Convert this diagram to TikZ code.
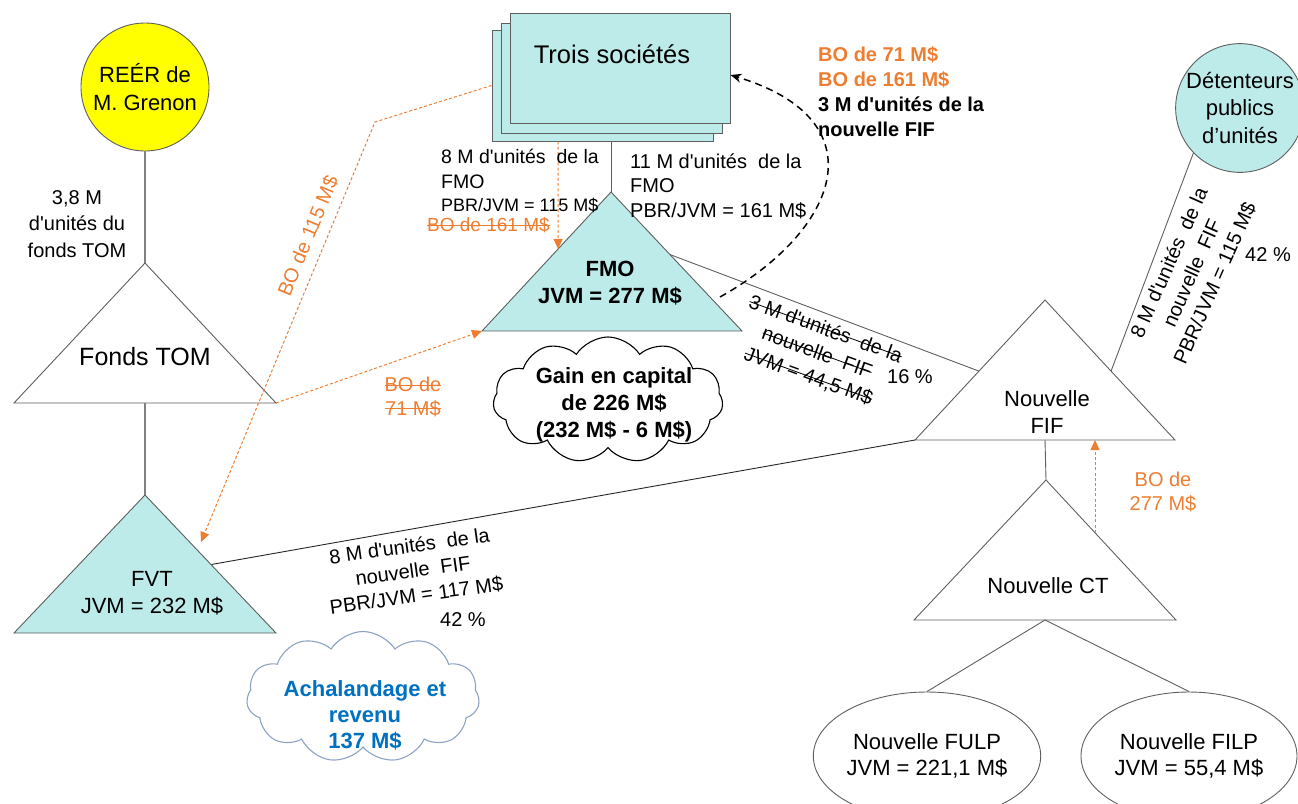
\documentclass[tikz,border=0pt]{standalone}
\usepackage{fontspec}
\setmainfont{Liberation Sans}[Ligatures=TeXOff]
\usetikzlibrary{shapes.symbols,shapes.geometric,arrows.meta,calc}
\definecolor{tealfill}{RGB}{189,235,233}
\definecolor{boorange}{RGB}{237,125,49}
\definecolor{boblue}{RGB}{0,112,192}
\definecolor{edgegray}{RGB}{95,95,95}
\definecolor{cloudblue}{RGB}{140,163,196}
\definecolor{reeryellow}{RGB}{255,255,0}
\newcommand{\fsz}[2]{\fontsize{#1}{#2}\selectfont}
% struck-through text
\newsavebox\strkbox
\newcommand{\strk}[1]{\sbox\strkbox{#1}\usebox\strkbox\llap{\rule[0.3em]{\wd\strkbox}{0.8pt}}}
% wide word gap
\newcommand{\wg}{\ \ }

\begin{document}
\begin{tikzpicture}[x=1pt,y=-1pt,
  link/.style={draw=edgegray,line width=0.9pt},
  tri/.style={draw=edgegray,line width=0.9pt,line join=miter},
  stackbox/.style={rectangle,draw=edgegray,fill=tealfill,line width=1pt,inner sep=0pt},
  odash/.style={draw=boorange,line width=1pt,dash pattern=on 3pt off 2.2pt},
  otip/.style={-{Triangle[width=9pt,length=10pt]}},
  kdash/.style={draw=black,line width=1.5pt,dash pattern=on 7pt off 5pt},
  txt/.style={inner sep=0pt,align=center},
  lbl/.style={txt,font=\fsz{20}{25}},
  big/.style={txt,font=\fsz{22}{27}},
  orng/.style={text=boorange},
]
\useasboundingbox (0,0) rectangle (1298,803);

% ---------- triangle vertices ----------
\coordinate (tomA) at (145,263); \coordinate (tomL) at (14,403);  \coordinate (tomR) at (276,403);
\coordinate (fvtA) at (145,495); \coordinate (fvtL) at (14,633);  \coordinate (fvtR) at (276,633);
\coordinate (fmoA) at (611,192); \coordinate (fmoL) at (482,331); \coordinate (fmoR) at (742,331);
\coordinate (fifA) at (1045,300); \coordinate (fifL) at (915,440); \coordinate (fifR) at (1175,440);
\coordinate (ctA) at (1046,480); \coordinate (ctL) at (914,620); \coordinate (ctR) at (1176,620);

% ---------- plain connectors (behind shapes) ----------
\draw[link] ($(fmoA)!0.45!(fmoR)$) -- ($(fifA)!0.508!(fifL)$);
\draw[link,draw=black!85] ($(fvtA)!0.504!(fvtR)$) -- (fifL);

% ---------- Trois sociétés ----------
\node[stackbox,minimum width=221pt,minimum height=111pt] (troisC) at (602.5,85.5) {};
\node[stackbox,minimum width=221pt,minimum height=110pt] (troisB) at (611.5,78) {};
\node[stackbox,minimum width=220pt,minimum height=110pt] (trois) at (620,68) {};
\node[txt,font=\fsz{25.5}{30},anchor=base] (troisT) at (612,63) {Trois sociétés};

% ---------- circles and ellipses ----------
\node[circle,draw=edgegray,fill=reeryellow,line width=0.9pt,minimum size=128pt,inner sep=0pt,
      font=\fsz{22}{28},align=center] (reer) at (145,87) {REÉR de\\M. Grenon};
\node[circle,draw=edgegray,fill=tealfill,line width=0.9pt,minimum size=120pt,inner sep=0pt,
      font=\fsz{22}{27.5},align=center] (det) at (1240,108) {Détenteurs\\publics\\d’unités};
\node[ellipse,draw=edgegray,line width=0.9pt,minimum width=216pt,minimum height=128pt,inner sep=0pt,
      font=\fsz{22}{26},align=center] (fulp) at (927,756) {Nouvelle FULP\\JVM = 221,1 M\$};
\node[ellipse,draw=edgegray,line width=0.9pt,minimum width=216pt,minimum height=128pt,inner sep=0pt,
      font=\fsz{22}{26},align=center] (filp) at (1189,756) {Nouvelle FILP\\JVM = 55,4 M\$};

% ---------- triangles ----------
\draw[tri,fill=white] (tomA) -- (tomL) -- (tomR) -- cycle;
\draw[tri,fill=tealfill] (fvtA) -- (fvtL) -- (fvtR) -- cycle;
\draw[tri,fill=tealfill] (fmoA) -- (fmoL) -- (fmoR) -- cycle;
\draw[tri,fill=white] (fifA) -- (fifL) -- (fifR) -- cycle;
\draw[tri,fill=white] (ctA) -- (ctL) -- (ctR) -- cycle;

% (anchor=base of a multi-line node sits on its last line)
\node[txt,font=\fsz{25}{30},anchor=base] (tomT) at (145,365) {Fonds TOM};
\node[big,anchor=base] (fvtT) at (152,613) {FVT\\JVM = 232 M\$};
\node[big,font=\fsz{22}{27}\bfseries,anchor=base] (fmoT) at (610,303) {FMO\\JVM = 277 M\$};
\node[big,anchor=base] (fifT) at (1047,433) {Nouvelle\\FIF};
\node[big,anchor=base] (ctT) at (1048,593) {Nouvelle CT};

% ---------- hierarchy connectors ----------
\draw[link,line width=1.3pt,draw=gray] (reer.south) -- (tomA);
\draw[link,line width=1.3pt,draw=gray] ($(tomL)!0.5!(tomR)$) -- (fvtA);
\draw[link] (troisC.south -| fmoA) -- (fmoA);
\draw[link] ($(fifA)!0.508!(fifR)$) -- (det.224);
\draw[link] ($(fifL)!0.5!(fifR)$) -- (ctA);
\draw[link] ($(ctL)!0.5!(ctR)$) -- (fulp.north);
\draw[link] ($(ctL)!0.5!(ctR)$) -- (filp.north);

% ---------- clouds ----------
\node[cloud,draw=black,line width=1.1pt,cloud puffs=11,cloud puff arc=115,cloud ignores aspect,
      minimum width=230pt,minimum height=126pt,inner sep=0pt] (gain) at (608,400) {};
\node[big,font=\fsz{22}{27}\bfseries,anchor=base] (gainT) at (614,437)
      {Gain en capital\\de 226 M\$\\(232 M\$ - 6 M\$)};
\node[cloud,draw=cloudblue,line width=1.1pt,cloud puffs=11,cloud puff arc=115,cloud ignores aspect,
      minimum width=233pt,minimum height=131pt,inner sep=0pt] (acha) at (363,697) {};
\node[big,font=\fsz{22}{26}\bfseries,text=boblue,anchor=base] (achaT) at (365,748)
      {Achalandage et\\revenu\\137 M\$};

% ---------- orange BO arrows ----------
\coordinate (bend) at (375,122);
\coordinate (fvtTip) at (201,542);
\coordinate (ctSide) at ($(ctA)!0.377!(ctR)$);
\draw[odash,otip] ($(troisC.south west)!0.3!(troisC.south east)$) -- ($(fmoA)!0.41!(fmoL)$);
\draw[odash,otip] (tomR) -- (fmoL);
\draw[odash,otip] (troisC.west) -- (bend) -- (fvtTip);
\draw[odash,otip] (ctSide) -- (ctSide |- fifL);

% ---------- black dashed return ----------
\coordinate (curveStart) at (720,297);
\draw[kdash,-{Stealth[length=11pt,width=9pt]}] (curveStart) .. controls (840,230) and (880,120) .. ([yshift=-7pt]trois.east);

% ---------- labels ----------
\node[lbl,font=\fsz{20}{26.5},anchor=base] (reerLbl) at (77,257) {3,8 M\\d'unités du\\fonds TOM};

\node[txt,align=left,anchor=base west,font=\fsz{19.5}{25}] (fmoLbl1) at (441,188)
      {8 M d'unités\wg de la\\FMO};
\node[txt,anchor=base west,font=\fsz{18}{22}] (fmoLbl2) at (441,211) {PBR/JVM = 115 M\$};
\node[txt,orng,anchor=base west,font=\fsz{19}{23}] (fmoLbl3) at (427,231) {\strk{BO de 161 M\$}};

\node[txt,align=left,anchor=base west,font=\fsz{20}{24.5}] (fmoLblR) at (630,217)
      {11 M d'unités\wg de la\\FMO\\PBR/JVM = 161 M\$};

\node[txt,align=left,anchor=base west,font=\fsz{20}{25}\bfseries] (retLbl) at (818,136)
      {\textcolor{boorange}{BO de 71 M\$}\\\textcolor{boorange}{BO de 161 M\$}\\3 M d'unités de la\\nouvelle FIF};

\node[lbl,orng,rotate=67.5] (bo115) at (308,236) {BO de 115 M\$};
\node[lbl,orng,anchor=base,font=\fsz{20}{23.5}] (bo71) at (413,415) {\strk{BO de}\\\strk{71 M\$}};

\node[lbl,rotate=-20] (fmoFifLbl) at (817,353)
      {\strk{3 M d'unités\wg de la}\\\strk{nouvelle\wg FIF}\\\strk{JVM = 44,5 M\$}};
\node[lbl] (pct16) at (910,377) {16 \%};

\node[lbl,rotate=66] (detLbl) at (1192,273)
      {8 M d'unités\wg de la\\nouvelle\wg FIF\\PBR/JVM = 115 M\$};
\node[lbl] (pct42a) at (1268,255) {42 \%};

\node[lbl,rotate=8] (fvtFifLbl) at (413,571)
      {8 M d'unités\wg de la\\nouvelle\wg FIF\\PBR/JVM = 117 M\$};
\node[lbl] (pct42b) at (463,620) {42 \%};

\node[lbl,orng,anchor=base,font=\fsz{20}{24}] (bo277) at (1163,510) {BO de\\277 M\$};
\end{tikzpicture}
\end{document}
